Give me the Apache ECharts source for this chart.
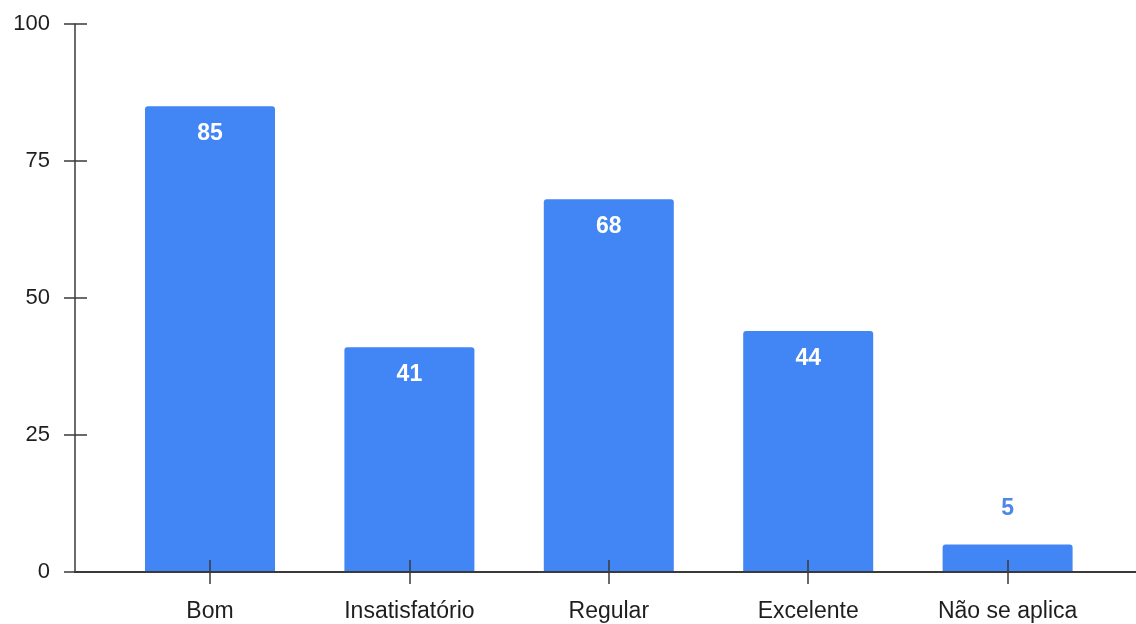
<!DOCTYPE html>
<html>
<head>
<meta charset="utf-8">
<script src="https://cdn.jsdelivr.net/npm/echarts@6/dist/echarts.min.js"></script>
<style>
html,body{margin:0;padding:0;background:#fff;}
#chart{width:1136px;height:624px;}
</style>
</head>
<body>
<div id="chart"></div>
<script>
const categories = ['Bom', 'Insatisfatório', 'Regular', 'Excelente', 'Não se aplica'];
const values = [85, 41, 68, 44, 5];
const yMin = 0, yMax = 100, yStep = 25;

const font = 'Liberation Sans, Arial, sans-serif';
const axisColor = '#3a3a3a';
const barColor = '#4285f4';

const chart = echarts.init(document.getElementById('chart'));
const seriesData = values.map(v => {
  const small = v < 10;
  return {
    value: v,
    label: small
      ? { position: 'top', distance: 24, color: '#4f87e6' }
      : { position: 'insideTop', distance: 16, color: '#ffffff' }
  };
});

chart.setOption({
  animation: false,
  backgroundColor: '#ffffff',
  grid: [
    { left: 110.3, right: 28.7, top: 24, bottom: 52 },
    { left: 75, right: 0, top: 24, bottom: 52 }
  ],
  xAxis: [
    {
      type: 'category', data: categories, gridIndex: 0, z: 5, position: 'bottom',
      axisLine: { show: false, onZero: false },
      axisTick: { show: true, alignWithLabel: true, length: 12, lineStyle: { color: axisColor, width: 1.5 } },
      axisLabel: { fontFamily: font, fontSize: 23, color: '#1e1e1e', margin: 28 }
    },
    {
      type: 'category', data: categories, gridIndex: 0, z: 5, position: 'bottom',
      axisLine: { show: false, onZero: false },
      axisTick: { show: true, inside: true, alignWithLabel: true, length: 12, lineStyle: { color: axisColor, width: 1.5 } },
      axisLabel: { show: false }
    },
    {
      type: 'value', gridIndex: 1, min: 0, max: 1, z: 5, position: 'bottom',
      axisLine: { show: true, onZero: false, lineStyle: { color: axisColor, width: 2 } },
      axisTick: { show: false }, axisLabel: { show: false }, splitLine: { show: false }
    }
  ],
  yAxis: [
    {
      type: 'value', gridIndex: 1, min: yMin, max: yMax, interval: yStep, z: 5, position: 'left',
      axisLine: { show: true, onZero: false, lineStyle: { color: axisColor, width: 1.5 } },
      axisTick: { show: true, length: 11, lineStyle: { color: axisColor, width: 1.5 } },
      axisLabel: { fontFamily: font, fontSize: 22, color: '#1e1e1e', margin: 25 },
      splitLine: { show: false }
    },
    {
      type: 'value', gridIndex: 1, min: yMin, max: yMax, interval: yStep, z: 5, position: 'left',
      axisLine: { show: false, onZero: false },
      axisTick: { show: true, inside: true, length: 12, lineStyle: { color: axisColor, width: 1.5 } },
      axisLabel: { show: false }, splitLine: { show: false }
    },
    {
      type: 'value', gridIndex: 0, min: yMin, max: yMax, interval: yStep, show: false
    }
  ],
  series: [{
    type: 'bar',
    xAxisIndex: 0,
    yAxisIndex: 2,
    data: seriesData,
    barWidth: 130,
    itemStyle: { color: barColor, borderRadius: [3, 3, 0, 0] },
    label: { show: true, fontFamily: font, fontSize: 23, fontWeight: 'bold' }
  }]
});
</script>
</body>
</html>
